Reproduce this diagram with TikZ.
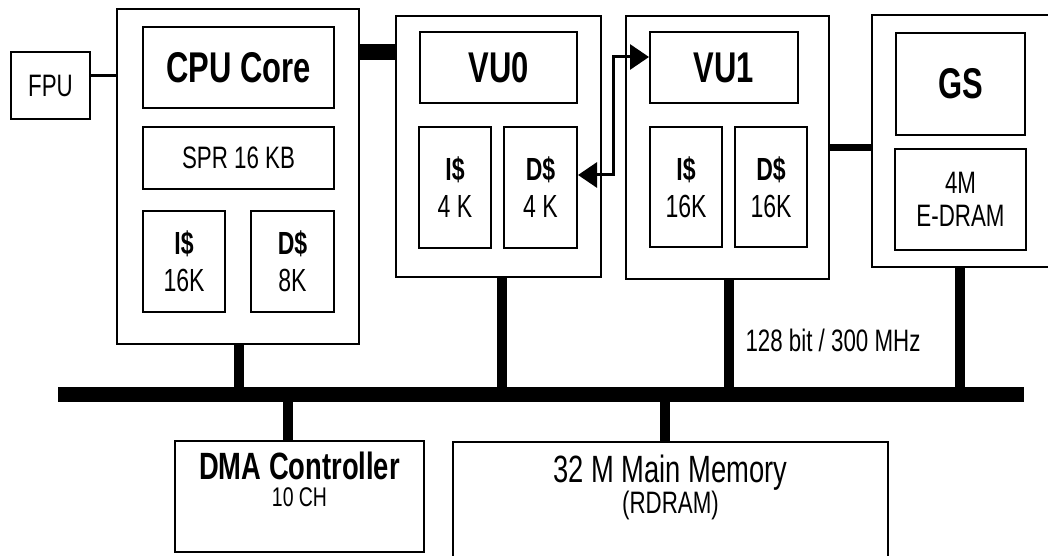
\documentclass[tikz,border=0pt]{standalone}
\usepackage{fontspec}
\setmainfont[FakeStretch=0.72]{Liberation Sans}
\usetikzlibrary{arrows.meta,positioning}

\tikzset{
  blk/.style={draw, line width=2pt, inner sep=0pt, align=center},
  ttl/.style={font=\fontsize{43}{48}\selectfont\bfseries},
  txt/.style={font=\fontsize{31}{36}\selectfont},
  cache/.style={blk, minimum width=72pt, minimum height=121pt, font=\fontsize{32}{37}\selectfont},
  drop/.style={line width=10pt},
  tip/.style={line width=3pt, {Triangle[length=19pt,width=25pt]}-{Triangle[length=19pt,width=25pt]}},
}

\begin{document}
\begin{tikzpicture}[x=1pt, y=1pt]
  \useasboundingbox[fill=white] (0,0) rectangle (1048,555);

  \node[blk, txt, minimum width=79pt, minimum height=67pt] (fpu) at (50.5,469.5) {FPU};
  \node[blk, minimum width=242pt, minimum height=335pt] (cpu) at (238,378.5) {};
  \node[blk, minimum width=205pt, minimum height=261pt] (vu0) at (498.5,408.5) {};
  \node[blk, minimum width=203pt, minimum height=263pt] (vu1) at (727.5,407.5) {};
  \node[blk, minimum width=180pt, minimum height=252pt] (gs) at (962,414) {};

  \node[blk, ttl, minimum width=191pt, minimum height=81pt] (cpucore) at (238.5,487.5) {CPU Core};
  \node[blk, txt, minimum width=191pt, minimum height=62pt] (spr) at (238.5,397) {SPR 16 KB};
  \node[cache, minimum width=82pt, minimum height=101pt] (cpui) at (184,293.5) {\textbf{I\$}\\16K};
  \node[cache, minimum width=83pt, minimum height=101pt] (cpud) at (292.5,293.5) {\textbf{D\$}\\8K};

  \node[blk, ttl, minimum width=157pt, minimum height=71pt] (vu0t) at (498.5,487.5) {VU0};
  \node[cache] (vu0i) at (455,367.5) {\textbf{I\$}\\4 K};
  \node[cache, minimum width=73pt] (vu0d) at (540.5,367.5) {\textbf{D\$}\\4 K};

  \node[blk, ttl, minimum width=148pt, minimum height=71pt] (vu1t) at (724,487.5) {VU1};
  \node[cache, minimum height=120pt] (vu1i) at (686,368) {\textbf{I\$}\\16K};
  \node[cache, minimum height=120pt] (vu1d) at (771,368) {\textbf{D\$}\\16K};

  \node[blk, ttl, minimum width=129pt, minimum height=102pt] (gst) at (960.5,471) {GS};
  \node[blk, minimum width=131pt, minimum height=101pt, font=\fontsize{31}{33}\selectfont] (edram) at (960.5,355.5) {4M\\E-DRAM};

  \node[fill, minimum width=966pt, minimum height=15pt, inner sep=0pt] (bus) at (541,160.5) {};
  \node[txt] (buslabel) at (833,215) {128 bit / 300 MHz};

  \node[blk, minimum width=249pt, minimum height=111pt] (dma) at (299.5,58.5) {};
  \node[blk, minimum width=435pt, minimum height=128pt] (mem) at (670.5,49) {};
  \node[align=center, font=\fontsize{27}{27}\selectfont, below=8pt of dma.north] (dmatext)
    {{\fontsize{38}{27}\selectfont\bfseries DMA Controller}\\10 CH};
  \node[align=center, font=\fontsize{31}{31}\selectfont, below=10pt of mem.north] (memtext)
    {{\fontsize{38}{31}\selectfont 32 M Main Memory}\\(RDRAM)};

  \coordinate (fpulink) at (0,479);
  \coordinate (cpulink) at (0,503);
  \draw[line width=3pt] (fpu.east |- fpulink) -- (cpu.west |- fpulink);
  \draw[line width=16pt] (cpu.east |- cpulink) -- (vu0.west |- cpulink);
  \draw[line width=7pt] (vu1.east) -- (gs.west |- vu1.east);

  \foreach \n/\dx in {cpu/1, vu0/3.5, vu1/1.5, gs/-2} {
    \coordinate (\n-bus) at ([xshift=\dx pt]\n.south);
    \draw[drop] (\n-bus) -- (\n-bus |- bus.north);
  }
  \foreach \n/\dx in {dma/-11.5, mem/-5.5} {
    \coordinate (\n-bus) at ([xshift=\dx pt]\n.north);
    \draw[drop] (bus.south -| \n-bus) -- (\n-bus);
  }

  \coordinate (vubend) at (613,0);
  \coordinate (dsrc) at ([yshift=12.5pt]vu0d.east);
  \draw[tip] (dsrc) -- (dsrc -| vubend) |- ([yshift=10.5pt]vu1t.west);
\end{tikzpicture}
\end{document}
